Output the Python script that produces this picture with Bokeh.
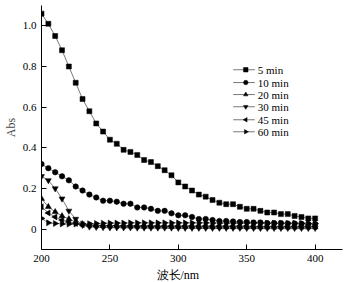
import math
from bokeh.plotting import figure
from bokeh.models import Title, Range1d
from bokeh.core.properties import value
from bokeh.embed import file_html
from bokeh.resources import INLINE

wavelength = list(range(200, 405, 5))

abs_5min = [1.06, 1.01, 0.95, 0.88, 0.80, 0.72, 0.64, 0.58, 0.52, 0.48,
            0.44, 0.42, 0.39, 0.38, 0.365, 0.34, 0.33, 0.31, 0.29, 0.265,
            0.23, 0.21, 0.19, 0.17, 0.16, 0.143, 0.13, 0.123, 0.123, 0.11,
            0.10, 0.10, 0.09, 0.082, 0.082, 0.074, 0.074, 0.065, 0.06, 0.053, 0.053]
abs_10min = [0.32, 0.30, 0.28, 0.26, 0.24, 0.21, 0.19, 0.17, 0.156, 0.14,
             0.14, 0.135, 0.125, 0.125, 0.107, 0.107, 0.10, 0.09, 0.09, 0.078,
             0.068, 0.068, 0.06, 0.05, 0.05, 0.045, 0.04, 0.04, 0.038, 0.035,
             0.035, 0.033, 0.033, 0.03, 0.03, 0.03, 0.028, 0.028, 0.027, 0.025, 0.025]
abs_20min = [0.15, 0.11, 0.085, 0.065, 0.05, 0.035, 0.025, 0.02, 0.018, 0.016,
             0.015, 0.015, 0.014, 0.014, 0.014, 0.013, 0.013, 0.013, 0.013, 0.012,
             0.012, 0.012, 0.012, 0.012, 0.012, 0.011, 0.011, 0.011, 0.011, 0.011,
             0.011, 0.011, 0.011, 0.010, 0.010, 0.010, 0.010, 0.010, 0.010, 0.010, 0.010]
abs_30min = [0.26, 0.24, 0.20, 0.15, 0.09, 0.05, 0.02, 0.012, 0.010, 0.009,
             0.008, 0.008, 0.008, 0.008, 0.007, 0.007, 0.007, 0.007, 0.007, 0.007,
             0.006, 0.006, 0.006, 0.006, 0.006, 0.006, 0.006, 0.006, 0.006, 0.006,
             0.005, 0.005, 0.005, 0.005, 0.005, 0.005, 0.005, 0.005, 0.005, 0.005, 0.005]
abs_45min = [0.11, 0.08, 0.06, 0.045, 0.035, 0.028, 0.022, 0.02, 0.019, 0.018,
             0.018, 0.018, 0.017, 0.017, 0.017, 0.017, 0.017, 0.016, 0.016, 0.016,
             0.016, 0.016, 0.016, 0.015, 0.015, 0.015, 0.015, 0.015, 0.015, 0.015,
             0.015, 0.014, 0.014, 0.014, 0.014, 0.014, 0.014, 0.014, 0.014, 0.014, 0.014]
abs_60min = [0.053, 0.031, 0.028, 0.026, 0.025, 0.025, 0.026, 0.027, 0.028, 0.029,
             0.030, 0.030, 0.030, 0.031, 0.031, 0.031, 0.031, 0.031, 0.031, 0.031,
             0.031, 0.031, 0.031, 0.031, 0.031, 0.030, 0.030, 0.030, 0.030, 0.030,
             0.030, 0.030, 0.030, 0.029, 0.029, 0.029, 0.029, 0.029, 0.029, 0.028, 0.028]

series_labels = ["5 min", "10 min", "20 min", "30 min", "45 min", "60 min"]
series_values = [abs_5min, abs_10min, abs_20min, abs_30min, abs_45min, abs_60min]
x_ticks = [200, 250, 300, 350, 400]
y_ticks = [0, 0.2, 0.4, 0.6, 0.8, 1.0]

markers = ["square", "circle", "triangle", "inverted_triangle", "triangle", "triangle"]
angles = [0, 0, 0, 0, math.pi / 2, -math.pi / 2]
sizes = [5, 5.5, 6, 6, 6, 6]

# manual legend layout (data units of the fixed ranges)
leg_line_x0, leg_line_x1, leg_mark_x, leg_text_x = 340.1, 355.9, 349.3, 358.1
leg_y = [0.784, 0.721, 0.662, 0.602, 0.538, 0.479]

SERIF = "Liberation Serif"

p = figure(width=347, height=282, output_backend="svg", toolbar_location=None,
           x_range=Range1d(200, 420), y_range=Range1d(-0.1, 1.1),
           min_border_left=40, min_border_right=5, min_border_top=5, min_border_bottom=5)
p.outline_line_color = None
p.grid.visible = False
p.background_fill_color = "white"

for lab, vals, mk, ang, sz in zip(series_labels, series_values, markers, angles, sizes):
    p.line(wavelength, vals, line_color="#555555", line_width=0.8)
    p.scatter(wavelength, vals, marker=mk, angle=ang, size=sz,
              fill_color="black", line_color="black", line_width=0.5)

# legend
p.segment(x0=[leg_line_x0] * 6, x1=[leg_line_x1] * 6, y0=leg_y, y1=leg_y,
          line_color="#555555", line_width=0.8)
for yy, mk, ang in zip(leg_y, markers, angles):
    p.scatter([leg_mark_x], [yy], marker=mk, angle=ang, size=4.5,
              fill_color="black", line_color="black", line_width=0.5)
p.text(x=[leg_text_x] * 6, y=leg_y, text=series_labels, text_font=value(SERIF),
       text_font_size="11px", text_baseline="middle", text_align="left", text_color="black")

for ax in (p.xaxis[0], p.yaxis[0]):
    ax.axis_line_color = "black"
    ax.axis_line_width = 1
    ax.major_tick_in = 5
    ax.major_tick_out = 0
    ax.minor_tick_in = 3
    ax.minor_tick_out = 0
    ax.major_tick_line_color = "black"
    ax.minor_tick_line_color = "black"
    ax.major_label_text_font = SERIF
    ax.major_label_text_font_size = "11px"
    ax.major_label_text_color = "black"
    ax.major_label_standoff = 5

p.xaxis.ticker = x_ticks
p.xaxis[0].ticker.num_minor_ticks = 2
p.yaxis.ticker = y_ticks
p.yaxis[0].ticker.num_minor_ticks = 2
p.yaxis.major_label_overrides = {0: "0", 0.2: "0.2", 0.4: "0.4", 0.6: "0.6", 0.8: "0.8", 1.0: "1.0"}

p.yaxis.axis_label = "Abs"
p.yaxis.axis_label_text_font = SERIF
p.yaxis.axis_label_text_font_style = "normal"
p.yaxis.axis_label_text_font_size = "12px"
p.yaxis.axis_label_standoff = 2

xlabel = Title(text="波长/nm", align="left", offset=115, standoff=2,
               text_font=SERIF, text_font_size="12px", text_font_style="normal",
               text_color="black")
p.add_layout(xlabel, "below")

open("out.html", "w").write(file_html(p, INLINE))
